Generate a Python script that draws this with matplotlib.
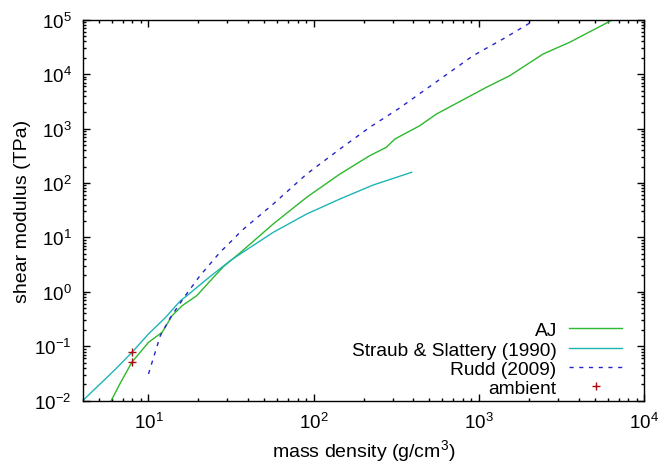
import matplotlib
matplotlib.use("Agg")
import matplotlib.pyplot as plt
from matplotlib.ticker import LogLocator, LogFormatterMathtext, NullFormatter

plt.rcParams["font.family"] = ["Liberation Sans", "DejaVu Sans"]
plt.rcParams["mathtext.fontset"] = "custom"
plt.rcParams["mathtext.rm"] = "Liberation Sans"
plt.rcParams["mathtext.default"] = "regular"

# Data
aj_rho = [5.95, 6.75, 7.94, 10.0, 12.1, 13.9, 16.0, 19.6, 22.5, 28.4, 35.8, 56.9,
          90.6, 144, 218, 275, 310, 438, 553, 1109, 1535, 2440, 3532, 6457]
aj_mu = [0.01, 0.021, 0.051, 0.118, 0.181, 0.365, 0.557, 0.85, 1.35, 2.9, 5.2, 17.7,
         54.6, 146, 317, 453, 643, 1128, 1850, 5730, 9360, 23400, 38400, 1e5]

ss_rho = [4.0, 6.32, 7.94, 10.0, 12.7, 15.6, 17.1, 22.5, 31.2, 41.1, 56.9, 90.6,
          144, 229, 391]
ss_mu = [0.01, 0.038, 0.077, 0.168, 0.34, 0.687, 0.85, 1.7, 3.73, 6.5, 12.4, 26.9,
         50.8, 91.8, 157]

rudd_rho = [10.0, 11.8, 13.6, 16.7, 20.5, 27.1, 32.7, 36.6, 56.9, 90.6, 144, 218,
            324, 920, 1396, 2193]
rudd_mu = [0.031, 0.157, 0.34, 0.85, 1.98, 5.33, 9.35, 13.3, 41.1, 146, 421, 1054,
           2286, 21800, 44200, 1e5]

amb_rho = [7.9, 7.9]
amb_mu = [0.077, 0.051]

fig = plt.figure(figsize=(6.59, 4.64), dpi=100)
ax = fig.add_axes([0.1255, 0.1343, 0.8522, 0.8211])

ax.plot(aj_rho, aj_mu, color="#2db82d", lw=1.0, label="AJ")
ax.plot(ss_rho, ss_mu, color="#1fb5b5", lw=1.0, label="Straub & Slattery (1990)")
ax.plot(rudd_rho, rudd_mu, color="#2525c8", lw=1.0, dashes=(3, 4), label="Rudd (2009)")
ax.plot(amb_rho, amb_mu, ls="none", marker="+", ms=6, mew=1.0, color="#a80c0c",
        label="ambient")

ax.set_xscale("log")
ax.set_yscale("log")
ax.set_xlim(4, 1e4)
ax.set_ylim(1e-2, 1e5)

for axis in (ax.xaxis, ax.yaxis):
    axis.set_major_locator(LogLocator(base=10, numticks=20))
    axis.set_minor_locator(LogLocator(base=10, subs=range(2, 10), numticks=20))
    axis.set_major_formatter(LogFormatterMathtext())
    axis.set_minor_formatter(NullFormatter())

ax.tick_params(which="both", direction="in", top=True, right=True, width=1.0,
               labelsize=13.5)
ax.tick_params(which="major", length=5, pad=8)
ax.tick_params(which="minor", length=2.5)
for s in ax.spines.values():
    s.set_linewidth(1.0)

ax.set_xlabel("mass density (g/cm$^3$)", fontsize=14, labelpad=4)
ax.set_ylabel("shear modulus (TPa)", fontsize=14, labelpad=2)

ax.legend(loc="lower right", bbox_to_anchor=(0.984, -0.026), frameon=False,
          markerfirst=False, fontsize=13.8, handlelength=2.75, handletextpad=0.65,
          labelspacing=0.1, borderpad=0.2)

fig.savefig("out.png", dpi=100)
